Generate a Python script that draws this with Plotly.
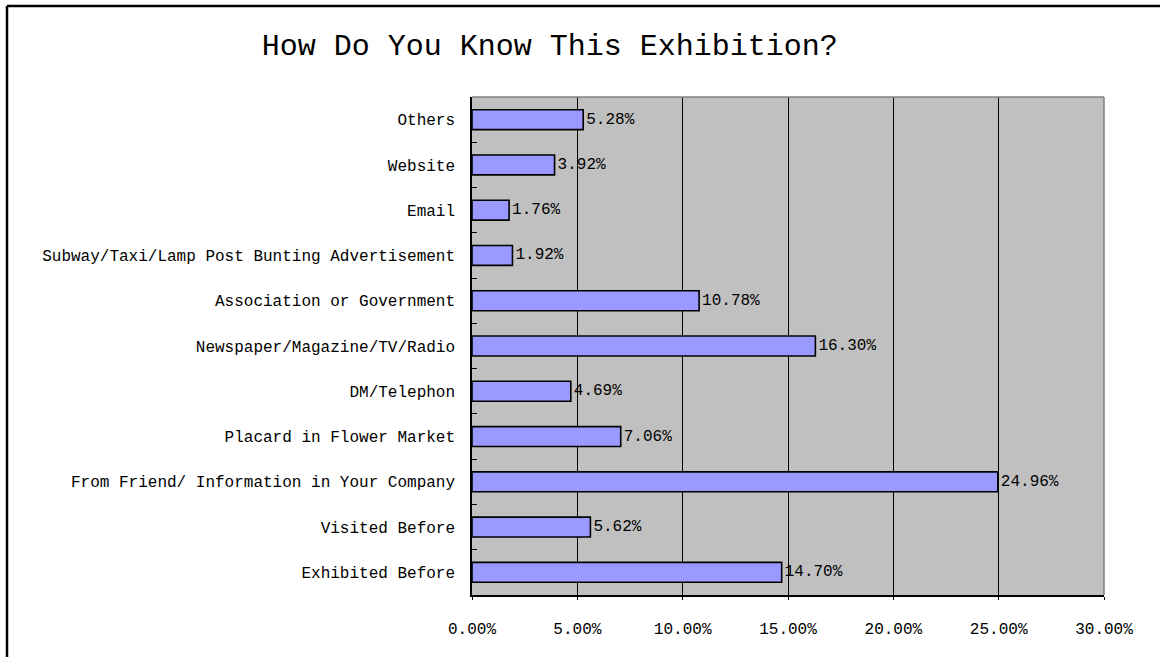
import plotly.graph_objects as go

categories = [
    "Exhibited Before",
    "Visited Before",
    "From Friend/ Information in Your Company",
    "Placard in Flower Market",
    "DM/Telephon",
    "Newspaper/Magazine/TV/Radio",
    "Association or Government",
    "Subway/Taxi/Lamp Post Bunting Advertisement",
    "Email",
    "Website",
    "Others",
]
values = [14.70, 5.62, 24.96, 7.06, 4.69, 16.30, 10.78, 1.92, 1.76, 3.92, 5.28]
tick_vals = [0, 5, 10, 15, 20, 25, 30]
tick_text = ["0.00%", "5.00%", "10.00%", "15.00%", "20.00%", "25.00%", "30.00%"]
title_text = "How Do You Know This Exhibition?"

FONT = "Liberation Mono"

# plot-area geometry in pixels (for the frame shapes)
L, R, T, B = 472, 56, 97, 62
W, H = 1160, 657
PW, PH = W - L - R, H - T - B

fig = go.Figure(
    go.Bar(
        x=values,
        y=categories,
        orientation="h",
        marker=dict(color="#9999FF", line=dict(color="black", width=1.6)),
        texttemplate="%{x:.2f}%",
        textposition="outside",
        textfont=dict(family=FONT, size=16, color="black"),
        cliponaxis=False,
        width=0.44,
    )
)

fig.update_layout(
    width=W,
    height=H,
    margin=dict(l=L, r=R, t=T, b=B),
    paper_bgcolor="white",
    plot_bgcolor="#C0C0C0",
    showlegend=False,
    font=dict(family=FONT, size=16, color="black"),
    title=dict(
        text=title_text,
        x=0.474,
        xanchor="center",
        y=0.933,
        yanchor="middle",
        font=dict(family=FONT, size=30, color="black"),
    ),
)

fig.update_xaxes(
    range=[0, 30],
    tickvals=tick_vals,
    ticktext=tick_text,
    showgrid=True,
    gridcolor="black",
    gridwidth=1,
    showline=True,
    linecolor="black",
    linewidth=1.5,
    ticks="outside",
    ticklen=3,
    tickcolor="black",
    ticklabelstandoff=15,
    zeroline=False,
    tickfont=dict(family=FONT, size=16, color="black"),
)

fig.update_yaxes(
    type="category",
    tickson="boundaries",
    ticks="inside",
    ticklen=5,
    tickcolor="black",
    showgrid=False,
    showline=True,
    linecolor="black",
    linewidth=1.5,
    ticklabelstandoff=12,
    tickfont=dict(family=FONT, size=16, color="black"),
)

# plot area top and right edges (gray)
fig.add_shape(type="line", xref="paper", yref="paper", x0=0, x1=1, y0=1, y1=1,
              line=dict(color="#808080", width=1.5))
fig.add_shape(type="line", xref="paper", yref="paper", x0=1, x1=1, y0=0, y1=1,
              line=dict(color="#808080", width=1.5))

# outer chart frame (top and left visible)
fx = (7 - L) / PW
fy = (T + PH - 6) / PH
fig.add_shape(type="line", xref="paper", yref="paper",
              x0=fx, x1=(W - L) / PW, y0=fy, y1=fy,
              line=dict(color="black", width=2.5))
fig.add_shape(type="line", xref="paper", yref="paper",
              x0=fx, x1=fx, y0=fy, y1=-B / PH,
              line=dict(color="black", width=2.5))

fig.write_html(
    "out.html",
    config={"displayModeBar": False},
    post_script="document.body.style.margin='0';document.body.style.overflow='hidden';",
)
